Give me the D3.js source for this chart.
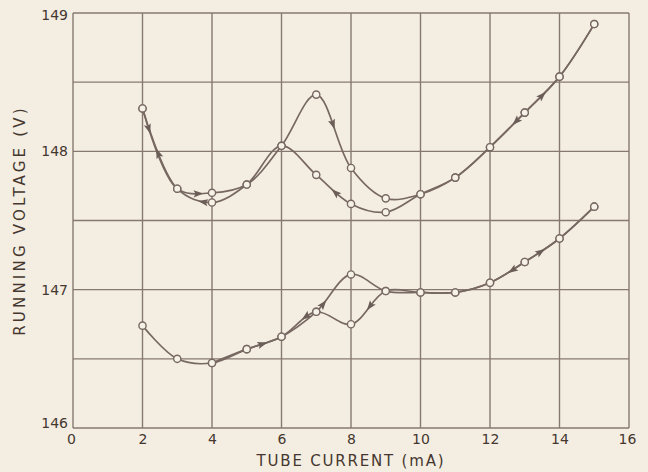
<!DOCTYPE html>
<html>
<head>
<meta charset="utf-8">
<script src="https://cdn.jsdelivr.net/npm/d3@7"></script>
<style>
  html, body { margin: 0; padding: 0; background: #f4eee2; }
  svg { display: block; }
  text { font-family: "DejaVu Sans", sans-serif; fill: #45372f; }
</style>
</head>
<body>
<svg id="chart" width="648" height="472"></svg>
<script>
// Tube current (mA) and running voltage (V), traced up and back down the current range.
const xTicks = [0, 2, 4, 6, 8, 10, 12, 14, 16];
const yTicks = [146, 147, 148, 149];
const xGrid = [0, 2, 4, 6, 8, 10, 12, 14, 16];
const yGrid = [146, 146.5, 147, 147.5, 148, 148.5, 149];

// Upper curve, rising current
const upperRiseI = [2, 3, 4, 5, 6, 7, 8, 9, 10, 11, 12, 13, 14, 15];
const upperRiseV = [148.31, 147.73, 147.70, 147.76, 148.04, 148.41, 147.88, 147.66, 147.69, 147.81, 148.03, 148.28, 148.54, 148.92];
// Upper curve, falling current
const upperFallI = [15, 14, 13, 12, 11, 10, 9, 8, 7, 6, 5, 4, 3, 2];
const upperFallV = [148.92, 148.54, 148.28, 148.03, 147.81, 147.69, 147.56, 147.62, 147.83, 148.04, 147.76, 147.63, 147.73, 148.31];

// Lower curve, rising current
const lowerRiseI = [2, 3, 4, 5, 6, 7, 8, 9, 10, 11, 12, 13, 14, 15];
const lowerRiseV = [146.74, 146.50, 146.47, 146.57, 146.66, 146.84, 147.11, 146.99, 146.98, 146.98, 147.05, 147.20, 147.37, 147.60];
// Lower curve, falling current
const lowerFallI = [15, 14, 13, 12, 11, 10, 9, 8, 7, 6, 5, 4];
const lowerFallV = [147.60, 147.37, 147.20, 147.05, 146.98, 146.98, 146.99, 146.75, 146.84, 146.66, 146.57, 146.47];

// Direction arrows: which trace, and the current (mA) where the arrowhead sits
const arrowTrace = ["upperRise", "upperRise", "upperRise", "upperRise",
                    "upperFall", "upperFall", "upperFall", "upperFall",
                    "lowerRise", "lowerRise", "lowerRise",
                    "lowerFall", "lowerFall", "lowerFall"];
const arrowAt = [2.18, 3.6, 7.48, 13.5,
                 2.45, 3.75, 7.55, 12.75,
                 5.45, 7.2, 13.45,
                 6.7, 8.55, 12.65];

const W = 648, H = 472;
const m = { left: 73, right: 19, top: 13, bottom: 44 };
const svg = d3.select("#chart");

const x = d3.scaleLinear().domain([0, 16]).range([m.left, W - m.right]);
const y = d3.scaleLinear().domain([146, 149]).range([H - m.bottom, m.top]);

const gridColor = "#877970";
const inkColor = "#776862";

// Grid
const g = svg.append("g");
g.selectAll("line.v").data(xGrid).join("line")
  .attr("x1", d => x(d)).attr("x2", d => x(d))
  .attr("y1", y(146)).attr("y2", y(149))
  .attr("stroke", gridColor).attr("stroke-width", 1.4);
g.selectAll("line.h").data(yGrid).join("line")
  .attr("y1", d => y(d)).attr("y2", d => y(d))
  .attr("x1", x(0)).attr("x2", x(16))
  .attr("stroke", gridColor).attr("stroke-width", 1.4);

// Axes (labels only; the frame comes from the grid)
const xAxis = d3.axisBottom(x).tickValues(xTicks).tickSize(0).tickPadding(6)
  .tickFormat(d => String(d));
const ax = svg.append("g").attr("transform", `translate(0,${y(146)})`).call(xAxis);
ax.select(".domain").remove();
ax.selectAll("text").attr("font-size", 14).attr("fill", "#45372f")
  .style("font-family", "DejaVu Sans, sans-serif")
  .attr("dx", d => d === 16 ? -2 : (d === 0 ? -2 : 0));

const yAxis = d3.axisLeft(y).tickValues(yTicks).tickSize(0).tickPadding(5)
  .tickFormat(d => String(d));
const ay = svg.append("g").attr("transform", `translate(${x(0)},0)`).call(yAxis);
ay.select(".domain").remove();
ay.selectAll("text").attr("font-size", 14).attr("fill", "#45372f")
  .style("font-family", "DejaVu Sans, sans-serif")
  .attr("dy", d => d === 146 ? "-0.05em" : (d === 149 ? "0.45em" : "0.32em"));

// Axis titles
svg.append("text")
  .attr("x", 351).attr("y", 466)
  .attr("text-anchor", "middle").attr("font-size", 15)
  .attr("letter-spacing", 1.8)
  .text("TUBE CURRENT (mA)");
svg.append("text")
  .attr("transform", `translate(25,${(y(146) + y(149)) / 2}) rotate(-90)`)
  .attr("text-anchor", "middle").attr("font-size", 15)
  .attr("letter-spacing", 3.2)
  .text("RUNNING VOLTAGE (V)");

// Traces
const traces = {
  upperRise: d3.zip(upperRiseI, upperRiseV),
  upperFall: d3.zip(upperFallI, upperFallV),
  lowerRise: d3.zip(lowerRiseI, lowerRiseV),
  lowerFall: d3.zip(lowerFallI, lowerFallV)
};
const line = d3.line().x(d => x(d[0])).y(d => y(d[1])).curve(d3.curveCatmullRom.alpha(0.5));

const pathNodes = {};
Object.entries(traces).forEach(([name, pts]) => {
  pathNodes[name] = svg.append("path")
    .attr("d", line(pts))
    .attr("fill", "none")
    .attr("stroke", inkColor)
    .attr("stroke-width", 1.7)
    .node();
});

// Arrowheads along each trace, pointing in the trace's direction
const arrows = d3.zip(arrowTrace, arrowAt);
arrows.forEach(([name, at]) => {
  const node = pathNodes[name];
  const total = node.getTotalLength();
  const target = x(at);
  const rising = traces[name][0][0] < traces[name][traces[name].length - 1][0];
  let L = 0;
  for (let s = 0; s <= total; s += 0.5) {
    const p = node.getPointAtLength(s);
    if ((rising && p.x >= target) || (!rising && p.x <= target)) { L = s; break; }
  }
  const p = node.getPointAtLength(L);
  const a = node.getPointAtLength(Math.max(0, L - 1.5));
  const b = node.getPointAtLength(Math.min(total, L + 1.5));
  const ang = Math.atan2(b.y - a.y, b.x - a.x) * 180 / Math.PI;
  svg.append("path")
    .attr("d", "M5,0 L-5,-3.6 L-3,0 L-5,3.6 Z")
    .attr("transform", `translate(${p.x},${p.y}) rotate(${ang})`)
    .attr("fill", "#6b5d57");
});

// Measured points as open circles
const allPts = [].concat(traces.upperRise, traces.upperFall, traces.lowerRise, traces.lowerFall);
svg.append("g").selectAll("circle").data(allPts).join("circle")
  .attr("cx", d => x(d[0])).attr("cy", d => y(d[1]))
  .attr("r", 3.6)
  .attr("fill", "#f7f2e7")
  .attr("stroke", inkColor)
  .attr("stroke-width", 1.4);
</script>
</body>
</html>
